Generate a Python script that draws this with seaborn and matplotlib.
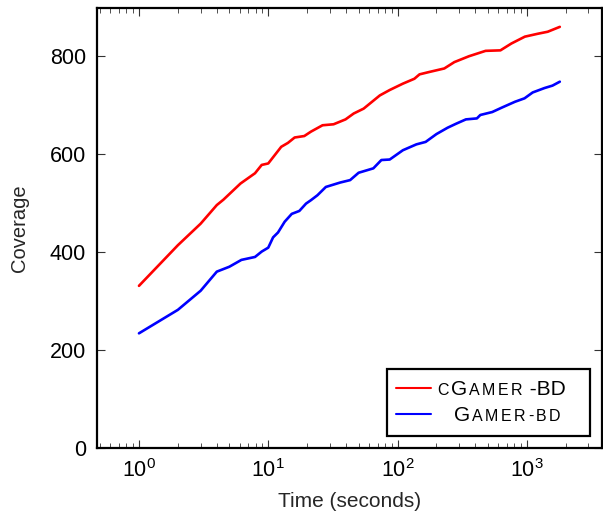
import matplotlib
matplotlib.use("Agg")
import pandas as pd
import seaborn as sns
from matplotlib import pyplot as plt
from matplotlib.lines import Line2D
from matplotlib.offsetbox import AnchoredOffsetbox, DrawingArea, HPacker, TextArea, VPacker
from matplotlib.ticker import LogLocator, NullFormatter

# cGamer-BD coverage over time
cgamer_time = [1, 2, 3, 4, 4.5, 6.1, 7.9, 8.9, 10, 12.6, 14.2, 16, 19, 21.4, 26.3, 32,
               39.6, 45.8, 54.7, 73, 87, 110, 135, 148, 177, 230, 275, 357, 480, 625,
               760, 966, 1220, 1450, 1800]
cgamer_cov = [331, 414, 458, 496, 507, 540, 561, 578, 581, 615, 623, 634, 637, 646, 659, 661,
              671, 683, 693, 720, 731, 744, 754, 763, 768, 775, 788, 800, 811, 812,
              826, 840, 846, 850, 860]

# Gamer-bd coverage over time
gamer_time = [1, 2, 3, 4, 5, 6.2, 7.9, 8.9, 10, 10.9, 11.9, 13.4, 15.2, 17.4, 19.6, 21.4,
              24, 27.9, 36, 43, 50, 65, 75, 87, 110, 140, 165, 200, 244, 283, 338, 411,
              437, 540, 640, 810, 960, 1110, 1370, 1580, 1800]
gamer_cov = [234, 282, 321, 360, 370, 384, 390, 401, 409, 430, 440, 462, 478, 484, 499, 506,
             516, 533, 542, 547, 562, 571, 588, 589, 608, 620, 625, 641, 654, 662, 671, 673,
             680, 686, 695, 707, 714, 726, 735, 740, 748]

TOOLS = ["cGamer-BD", "Gamer-bd"]
COLORS = {"cGamer-BD": "#ff0000", "Gamer-bd": "#0000ff"}
BIG, SMALL = 15, 11.5

sns.set_theme(style="ticks")
plt.rcParams["font.family"] = ["Liberation Sans", "DejaVu Sans"]
plt.rcParams["mathtext.default"] = "regular"

df = pd.concat([
    pd.DataFrame({"time": cgamer_time, "coverage": cgamer_cov, "tool": TOOLS[0]}),
    pd.DataFrame({"time": gamer_time, "coverage": gamer_cov, "tool": TOOLS[1]}),
])

fig = plt.figure(figsize=(6.03, 5.16), dpi=100)
ax = fig.add_axes([0.161, 0.132, 0.837, 0.852])

sns.lineplot(data=df, x="time", y="coverage", hue="tool", palette=COLORS,
             estimator=None, sort=False, legend=False, linewidth=1.9, ax=ax)

ax.set_xscale("log")
ax.set_xlim(10 ** -0.324, 10 ** 3.58)
ax.set_ylim(0, 898)
ax.set_yticks([0, 200, 400, 600, 800])
ax.xaxis.set_minor_locator(LogLocator(base=10, subs=range(2, 10), numticks=20))
ax.xaxis.set_minor_formatter(NullFormatter())

ax.set_xlabel("Time (seconds)", fontsize=15, labelpad=7)
ax.set_ylabel("Coverage", fontsize=14.5, labelpad=15)
ax.tick_params(which="both", direction="in", top=True, right=True, colors="#333333",
               labelcolor="black", labelsize=15.5)
ax.tick_params(which="major", length=6, width=0.8, pad=8)
ax.tick_params(which="minor", length=3.5, width=0.6)
for s in ax.spines.values():
    s.set_linewidth(1.6)
    s.set_color("black")


def small_caps(text, size):
    # fake small caps: spaced-out capitals at a smaller size
    if size == BIG:
        return TextArea(text, textprops=dict(fontsize=size, color="black"))
    letters = [TextArea(ch, textprops=dict(fontsize=size, color="black")) for ch in text]
    return HPacker(children=letters, align="baseline", pad=0, sep=1.8)


def legend_row(color, pieces, lead, trail):
    da = DrawingArea(lead, 9, 0, 0)
    da.add_artist(Line2D([6.5, 31.5], [5, 5], color=color, lw=1.5))
    body = HPacker(children=[small_caps(t, s) for t, s in pieces], align="baseline", pad=0, sep=1.5)
    return HPacker(children=[da, body, DrawingArea(trail, 1, 0, 0)],
                   align="baseline", pad=0, sep=0)


rows = [
    DrawingArea(1, 3, 0, 0),
    legend_row(COLORS["cGamer-BD"],
               [("C", SMALL), ("G", BIG), ("AMER", SMALL), (" -BD", BIG)], 36, 17),
    legend_row(COLORS["Gamer-bd"], [("G", BIG), ("AMER-BD", SMALL)], 48, 0),
    DrawingArea(1, 3, 0, 0),
]
leg = AnchoredOffsetbox(loc="lower right", child=VPacker(children=rows, align="left", pad=0, sep=5),
                        pad=0, borderpad=0.86, frameon=True, prop=dict(size=10))
leg.patch.set_boxstyle("square", pad=0)
leg.patch.set_linewidth(1.6)
leg.patch.set_edgecolor("black")
ax.add_artist(leg)

fig.savefig("out.png", dpi=100)
